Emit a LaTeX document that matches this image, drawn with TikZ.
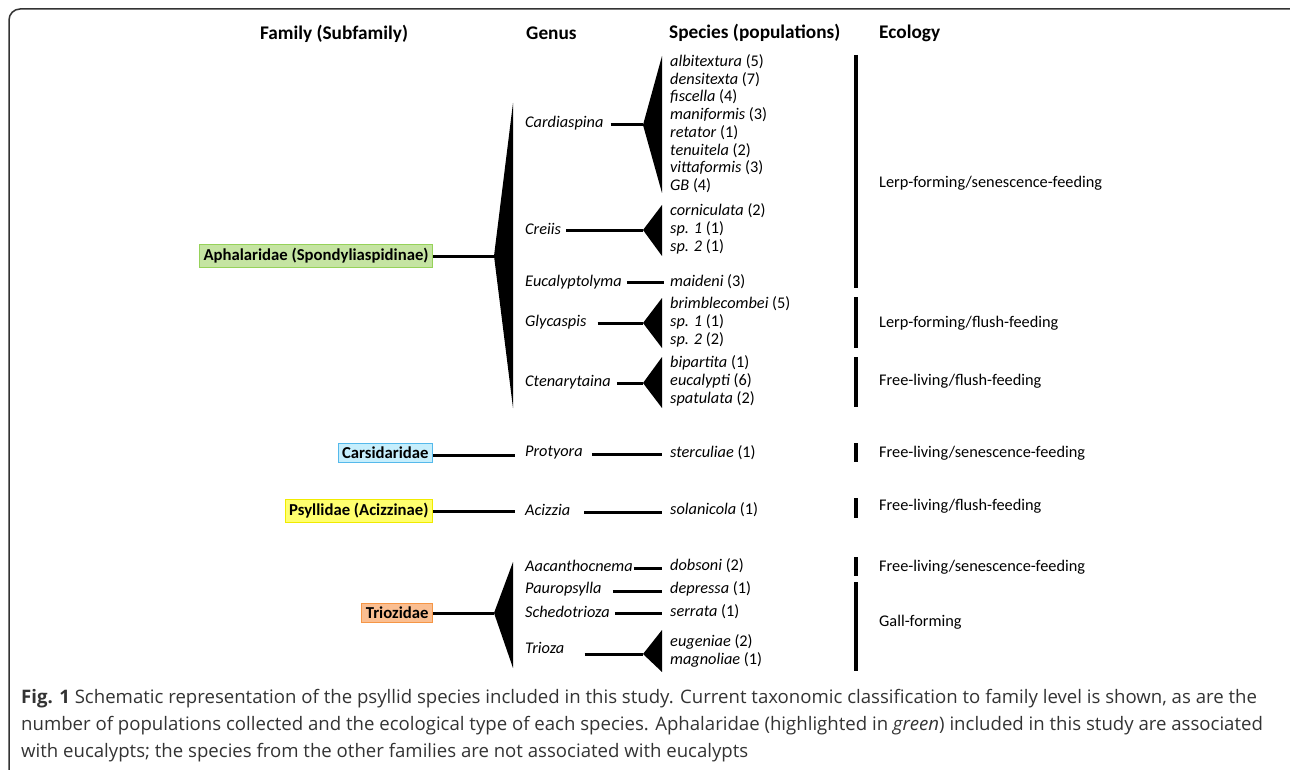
\documentclass[tikz,border=0pt]{standalone}
\usepackage{fontspec}
\setmainfont{Carlito}
\newfontfamily\capfont{Open Sans}
\usetikzlibrary{positioning}
\definecolor{aphgreen}{RGB}{197,228,162}
\definecolor{aphline}{RGB}{150,210,90}
\definecolor{carblue}{RGB}{198,238,252}
\definecolor{carline}{RGB}{85,185,235}
\definecolor{psyyellow}{RGB}{255,255,110}
\definecolor{psyline}{RGB}{240,235,0}
\definecolor{trioorange}{RGB}{250,190,145}
\definecolor{trioline}{RGB}{245,150,70}

\begin{document}
\begin{tikzpicture}[x=1pt,y=-1pt]
  \tikzstyle{every node}=[font=\fontsize{16.3}{17.7}\selectfont, inner sep=0pt]
  \tikzstyle{head}=[font=\fontsize{19.3}{20}\selectfont\bfseries, anchor=west]
  \tikzstyle{family}=[anchor=east, line width=1pt, inner xsep=4pt, inner ysep=3.5pt,
                      font=\fontsize{16.7}{18}\selectfont\bfseries]
  \tikzstyle{genus}=[anchor=west, font=\fontsize{16.3}{17.7}\selectfont\itshape]
  \tikzstyle{species}=[anchor=west]
  \tikzstyle{branch}=[line width=3pt]
  \tikzstyle{eco}=[line width=4pt]

  \useasboundingbox (0,0) rectangle (1290,770);
  \begin{scope}
    \clip (0,0) rectangle (1290,770);
    \draw[line width=1.5pt, rounded corners=11pt, black!80] (9,9) rectangle (1310,792);
  \end{scope}

  % Column heads
  \node (hfam) [head, anchor=center] at (334,34) {Family (Subfamily)};
  \node (hgen) [head] at (526,33) {Genus};
  \node (hspe) [head] at (669,33) {Species (populations)};
  \node (heco) [head] at (879,33) {Ecology};

  % Families
  \node (aph) [family, draw=aphline, fill=aphgreen] at (433,256) {Aphalaridae (Spondyliaspidinae)};
  \node (car) [family, draw=carline, fill=carblue] at (433,453) {Carsidaridae};
  \node (psy) [family, draw=psyline, fill=psyyellow] at (433,511) {Psyllidae (Acizzinae)};
  \node (trio) [family, draw=trioline, fill=trioorange] at (433,613) {Triozidae};

  % Genera
  \node (card) [genus] at (525,123) {Cardiaspina};
  \node (crei) [genus] at (525,229) {Creiis};
  \node (euca) [genus] at (525,282) {Eucalyptolyma};
  \node (glyc) [genus] at (525,322) {Glycaspis};
  \node (cten) [genus] at (525,382) {Ctenarytaina};
  \node (prot) [genus] at (525,453) {Protyora};
  \node (aciz) [genus] at (525,510) {Acizzia};
  \node (aaca) [genus] at (525,566) {Aacanthocnema};
  \node (paur) [genus] at (525,589) {Pauropsylla};
  \node (sche) [genus] at (525,612) {Schedotrioza};
  \node (trza) [genus] at (525,648) {Trioza};

  % Species
  \node (scard) [species] at (670,125)
        {\tabular{@{}l@{}} \textit{albitextura} (5)\\ \textit{densitexta} (7)\\ \textit{fiscella} (4)\\
         \textit{maniformis} (3)\\ \textit{retator} (1)\\ \textit{tenuitela} (2)\\
         \textit{vittaformis} (3)\\ \textit{GB} (4) \endtabular};
  \node (screi) [species] at (670,230)
        {\tabular{@{}l@{}} \textit{corniculata} (2)\\ \textit{sp. 1} (1)\\ \textit{sp. 2} (1) \endtabular};
  \node (seuca) [species] at (670,282) {\textit{maideni} (3)};
  \node (sglyc) [species] at (670,323)
        {\tabular{@{}l@{}} \textit{brimblecombei} (5)\\ \textit{sp. 1} (1)\\ \textit{sp. 2} (2) \endtabular};
  \node (scten) [species] at (670,382)
        {\tabular{@{}l@{}} \textit{bipartita} (1)\\ \textit{eucalypti} (6)\\ \textit{spatulata} (2) \endtabular};
  \node (sprot) [species] at (670,453) {\textit{sterculiae} (1)};
  \node (saciz) [species] at (670,510) {\textit{solanicola} (1)};
  \node (saaca) [species] at (670,566) {\textit{dobsoni} (2)};
  \node (spaur) [species] at (670,589) {\textit{depressa} (1)};
  \node (ssche) [species] at (670,612) {\textit{serrata} (1)};
  \node (strza) [species] at (670,652)
        {\tabular{@{}l@{}} \textit{eugeniae} (2)\\ \textit{magnoliae} (1) \endtabular};

  % Ecology
  \node (e1) [species] at (879,183) {Lerp-forming/senescence-feeding};
  \node (e2) [species] at (879,323) {Lerp-forming/flush-feeding};
  \node (e3) [species] at (879,381) {Free-living/flush-feeding};
  \node (e4) [species] at (879,453) {Free-living/senescence-feeding};
  \node (e5) [species] at (879,506) {Free-living/flush-feeding};
  \node (e6) [species] at (879,567) {Free-living/senescence-feeding};
  \node (e7) [species] at (879,622) {Gall-forming};
  \draw[eco] (856,55) -- (856,288);
  \draw[eco] (856,297) -- (856,348);
  \draw[eco] (856,357) -- (856,407);
  \draw[eco] (856,443) -- (856,462);
  \draw[eco] (856,498) -- (856,518);
  \draw[eco] (856,557) -- (856,576);
  \draw[eco] (856,582) -- (856,671);

  % Wedges
  \coordinate (aphtip) at (494,256);
  \coordinate (triotip) at (494,613);
  \coordinate (cardtip) at (643,125);
  \coordinate (creitip) at (643,230);
  \coordinate (glyctip) at (643,323);
  \coordinate (ctentip) at (643,383);
  \coordinate (trzatip) at (643,654);
  \fill (aphtip) -- (513,103) -- (513,408) -- cycle;
  \fill (triotip) -- (513,562) -- (513,668) -- cycle;
  \fill (cardtip) -- (662,56) -- (662,193) -- cycle;
  \fill (creitip) -- (662,205) -- (662,256) -- cycle;
  \fill (glyctip) -- (662,298) -- (662,348) -- cycle;
  \fill (ctentip) -- (662,357) -- (662,408) -- cycle;
  \fill (trzatip) -- (662,630) -- (662,672) -- cycle;

  % Lines
  \draw[branch] (aph.east) -- (aphtip);
  \draw[branch] (car.east |- 0,455) -- ([xshift=-10pt]prot.west |- 0,455);
  \draw[branch] (psy.east |- 0,511) -- ([xshift=-10pt]aciz.west |- 0,511);
  \draw[branch] (trio.east) -- (triotip);
  \draw[branch] ([xshift=7pt]card.east |- cardtip) -- (cardtip);
  \draw[branch] ([xshift=5pt]crei.east |- creitip) -- (creitip);
  \draw[branch] ([xshift=5pt]euca.east) -- ([xshift=-6pt]seuca.west);
  \draw[branch] ([xshift=11pt]glyc.east |- glyctip) -- (glyctip);
  \draw[branch] ([xshift=6pt]cten.east |- ctentip) -- (ctentip);
  \draw[branch] ([xshift=9pt]prot.east |- 0,454) -- ([xshift=-8pt]sprot.west |- 0,454);
  \draw[branch] ([xshift=14pt]aciz.east |- 0,512) -- ([xshift=-8pt]saciz.west |- 0,512);
  \draw[branch] ([xshift=1pt]aaca.east |- 0,568) -- ([xshift=-8pt]saaca.west |- 0,568);
  \draw[branch] ([xshift=11pt]paur.east |- 0,591) -- ([xshift=-8pt]spaur.west |- 0,591);
  \draw[branch] ([xshift=5pt]sche.east |- 0,613) -- ([xshift=-8pt]ssche.west |- 0,613);
  \draw[branch] ([xshift=20pt]trza.east |- trzatip) -- (trzatip);

  % Caption
  \node (cap) [anchor=north west, text=black!80, font=\capfont\fontsize{18.6}{27}\selectfont] at (21,684)
        {\tabular{@{}l@{}} \textbf{Fig. 1} Schematic representation of the psyllid species included in this study. Current taxonomic classification to family level is shown, as are the\\
         number of populations collected and the ecological type of each species. Aphalaridae (highlighted in \textit{green}) included in this study are associated\\
         with eucalypts; the species from the other families are not associated with eucalypts \endtabular};
\end{tikzpicture}
\end{document}
